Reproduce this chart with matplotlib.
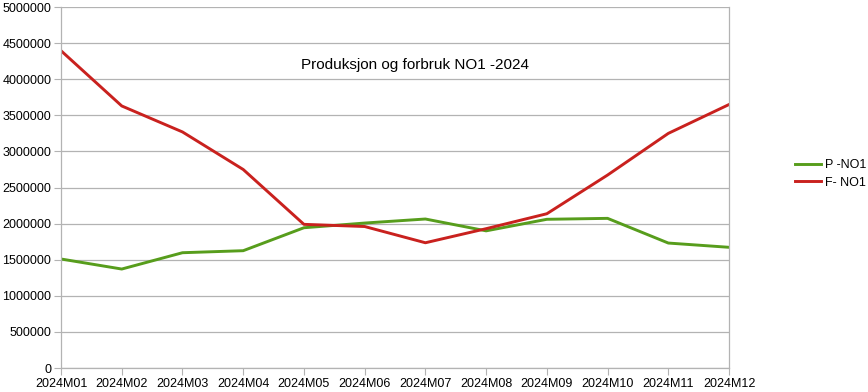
import numpy as np
import matplotlib
matplotlib.use('Agg')
import matplotlib.pyplot as plt
from matplotlib.ticker import MultipleLocator, FuncFormatter

#--data
months = ['2024M01','2024M02','2024M03','2024M04','2024M05','2024M06',
          '2024M07','2024M08','2024M09','2024M10','2024M11','2024M12']
prod_no1 = [1510000,1371000,1597000,1625000,1943000,2008000,
            2064000,1900000,2060000,2073000,1731000,1672000]
forb_no1 = [4395000,3630000,3270000,2750000,1990000,1960000,
            1735000,1930000,2137000,2673000,3250000,3650000]

plt.rcParams['font.family'] = ['Liberation Sans','DejaVu Sans']

fig = plt.figure(figsize=(8.68,3.92),dpi=100)
ax = fig.add_axes([0.0703,0.0612,0.7696,0.9208])

x = np.arange(len(months))
ax.plot(x,prod_no1,color='#579d1c',lw=2.1,label='P -NO1')
ax.plot(x,forb_no1,color='#c9211e',lw=2.1,label='F- NO1')

ax.set_xlim(0,len(months)-1)
ax.set_ylim(0,5000000)
ax.yaxis.set_major_locator(MultipleLocator(500000))
ax.yaxis.set_major_formatter(FuncFormatter(lambda v,p: '%d'%v))
ax.set_xticks(x)
ax.set_xticklabels(months)

ax.grid(axis='y',color='#b3b3b3',lw=0.9)
ax.set_axisbelow(True)
ax.spines['top'].set_visible(False)
for s in ['left','right','bottom']:
    ax.spines[s].set_color('#b3b3b3')
    ax.spines[s].set_linewidth(0.9)
ax.tick_params(axis='both',which='major',length=5,color='#b3b3b3',labelsize=9,pad=2)

ax.text(0.53,0.84,'Produksjon og forbruk NO1 -2024',transform=ax.transAxes,
        ha='center',va='center',fontsize=11)

ax.legend(loc='center left',bbox_to_anchor=(1.086,0.538),frameon=False,fontsize=9,
          handlelength=2.1,handletextpad=0.3,labelspacing=0.45,borderaxespad=0.3)

fig.savefig('out.png',dpi=100)
